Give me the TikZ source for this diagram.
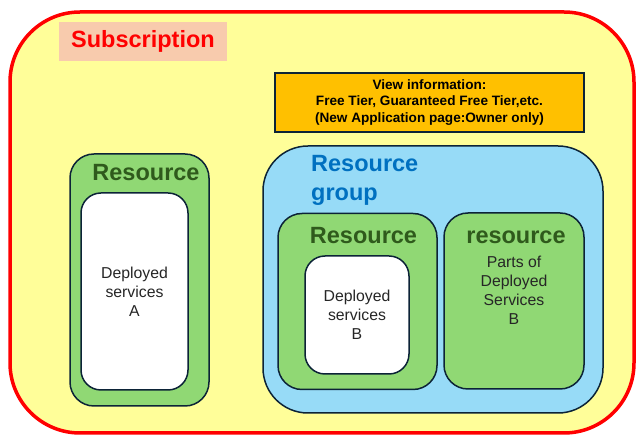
\documentclass[tikz,border=0pt]{standalone}
\usepackage{fontspec}
\setmainfont{Liberation Sans}
\usepackage{tikz}
\usetikzlibrary{positioning, calc}
\definecolor{subyellow}{HTML}{FFFE99}
\definecolor{subred}{HTML}{FF0000}
\definecolor{subpeach}{HTML}{F8CBAD}
\definecolor{infoorange}{HTML}{FFC000}
\definecolor{groupblue}{HTML}{97DBF7}
\definecolor{grouptext}{HTML}{0070C0}
\definecolor{resgreen}{HTML}{90D874}
\definecolor{restext}{HTML}{2F5A1C}
\definecolor{edgenavy}{HTML}{0C2337}
\tikzset{subscription/.style={rectangle,draw=subred,fill=subyellow,line width=3.5pt,rounded corners=70pt},
         sublabel/.style={rectangle,fill=subpeach,text=subred,font=\fontsize{23.5}{28}\selectfont\bfseries},
         info/.style={rectangle,draw=edgenavy,fill=infoorange,line width=1.8pt,align=center,font=\fontsize{13.6}{16.5}\selectfont\bfseries},
         group/.style={rectangle,draw=edgenavy,fill=groupblue,line width=1.5pt,rounded corners=45pt},
         resource/.style={rectangle,draw=edgenavy,fill=resgreen,line width=1.5pt,rounded corners=24pt},
         service/.style={rectangle,draw=edgenavy,fill=white,line width=1.5pt,rounded corners=20pt},
         title/.style={font=\fontsize{23.5}{29}\selectfont\bfseries,inner sep=0pt},
         body/.style={align=center,text=black!85,font=\fontsize{15.8}{19}\selectfont,inner sep=0pt}}
\begin{document}
\begin{tikzpicture}[x=1pt,y=-1pt]
    \useasboundingbox (0,0) rectangle (641,443);
    % Subscription
    \node (sub) [subscription, minimum width=624pt, minimum height=421pt] at (322,222.5) {};
    \node (subname) [sublabel, minimum width=168pt, minimum height=39pt] at (143,41.5) {Subscription};
    % View information
    \node (info) [info, minimum width=309pt, minimum height=59pt] at (429.5,102.5) {View information:\\Free Tier, Guaranteed Free Tier,etc.\\(New Application page:Owner only)};
    % Resource A
    \node (resA) [resource, minimum width=139pt, minimum height=252pt] at (139.5,280) {};
    \node (resAname) [title, text=restext] at (146,173) {Resource};
    \node (svcA) [service, minimum width=107pt, minimum height=197pt] at (134.5,291.5) {};
    \node (svcAtext) [body] at (134.5,292) {Deployed\\services\\A};
    % Resource group
    \node (grp) [group, minimum width=340pt, minimum height=267pt] at (433,279.5) {};
    \node (grpname) [title, text=grouptext, align=left, anchor=west] at (311,180.5) {Resource\\group};
    % Resource B
    \node (resB) [resource, minimum width=159pt, minimum height=176pt] at (357.5,301.5) {};
    \node (resBname) [title, text=restext] at (363.5,236) {Resource};
    \node (svcB) [service, minimum width=104pt, minimum height=118pt] at (357,315) {};
    \node (svcBtext) [body] at (357,315) {Deployed\\services\\B};
    % resource (parts of B)
    \node (resC) [resource, minimum width=140pt, minimum height=176pt] at (514,301) {};
    \node (resCname) [title, text=restext] at (516,237) {resource};
    \node (partsB) [body] at (514,290.5) {Parts of\\Deployed\\Services\\B};
\end{tikzpicture}
\end{document}
